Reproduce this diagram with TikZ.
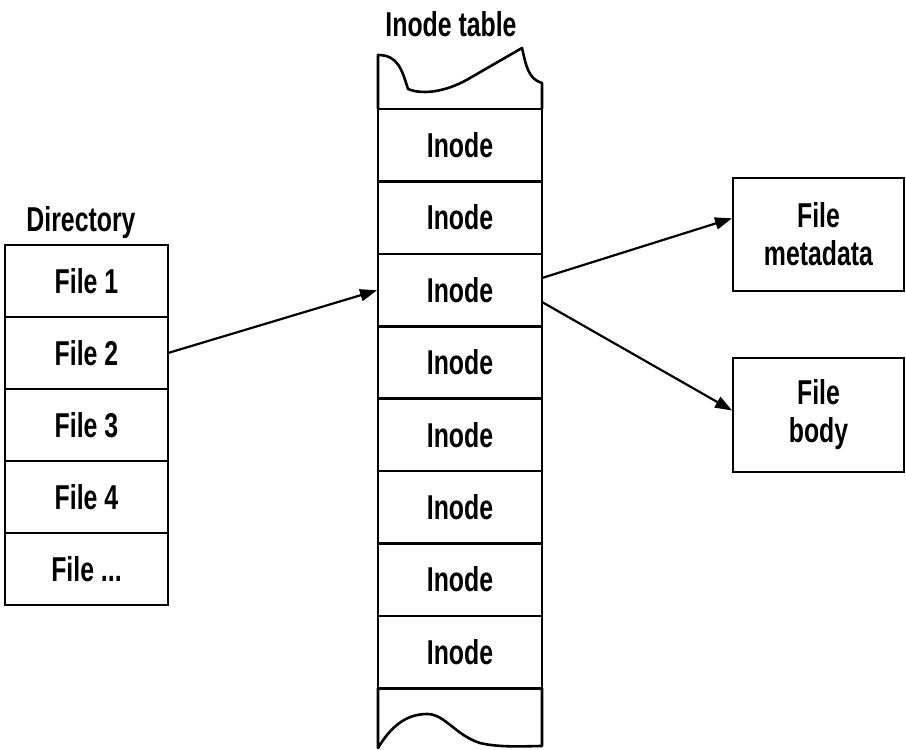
\documentclass[tikz,border=0pt]{standalone}
\usepackage{fontspec}
\setmainfont{Liberation Sans}[FakeStretch=0.72,UprightFont=*-Bold]
\usetikzlibrary{arrows.meta}
\begin{document}
\begin{tikzpicture}[x=1pt,y=-1pt,
  line width=2.6pt,
  every node/.style={font=\fontsize{34.5}{38}\selectfont},
  cell/.style={draw,minimum width=164pt,minimum height=72.4pt,inner sep=0pt,outer sep=0pt},
  dircell/.style={cell,minimum width=163pt,minimum height=72pt},
  infobox/.style={draw,minimum width=171pt,inner sep=0pt,outer sep=0pt,align=center},
  link/.style={-{Triangle[length=17pt,width=12pt]},line width=2.2pt,shorten >=1pt}]
\useasboundingbox[fill=white] (0,0) rectangle (906,750);

% Directory column
\node (dirlabel) at (81,223) {Directory};
\node[dircell] (f1) at (86.5,281) {File 1};
\node[dircell] (f2) at (86.5,353) {File 2};
\node[dircell] (f3) at (86.5,425) {File 3};
\node[dircell] (f4) at (86.5,497) {File 4};
\node[dircell] (f5) at (86.5,569) {File {...}};

% Inode table column
\node (tablelabel) at (451,24) {Inode table};
\foreach \k in {1,2,3,4,5,6,7,8}
  \node[cell] (i\k) at (460,{145.2+(\k-1)*72.4}) {Inode};

% torn top and bottom edges of the table
\draw[line join=round] (i1.north west) -- (378,55)
  .. controls (398,55) and (402,70) .. (408,89)
  .. controls (425,96) and (450,90) .. (470,78)
  -- (522,48)
  .. controls (526,65) and (528,79) .. (542,83)
  -- (i1.north east);
\draw[line join=round] (i8.south west) -- (378,748)
  .. controls (390,728) and (405,714) .. (427,714)
  .. controls (445,714) and (455,735) .. (480,743)
  .. controls (500,748) and (530,746) .. (542,746)
  -- (i8.south east);

% File data boxes
\node[infobox,minimum height=113pt] (meta) at (818.5,234.5) {File\\metadata};
\node[infobox,minimum height=114pt] (body) at (818.5,415) {File\\body};

% Connectors
\draw[link] (f2.east) -- (i3.west);
\draw[link] ([yshift=12pt]i3.east) -- ([yshift=16.5pt]meta.west);
\draw[link] ([yshift=-12pt]i3.east) -- ([yshift=4pt]body.west);
\end{tikzpicture}
\end{document}
